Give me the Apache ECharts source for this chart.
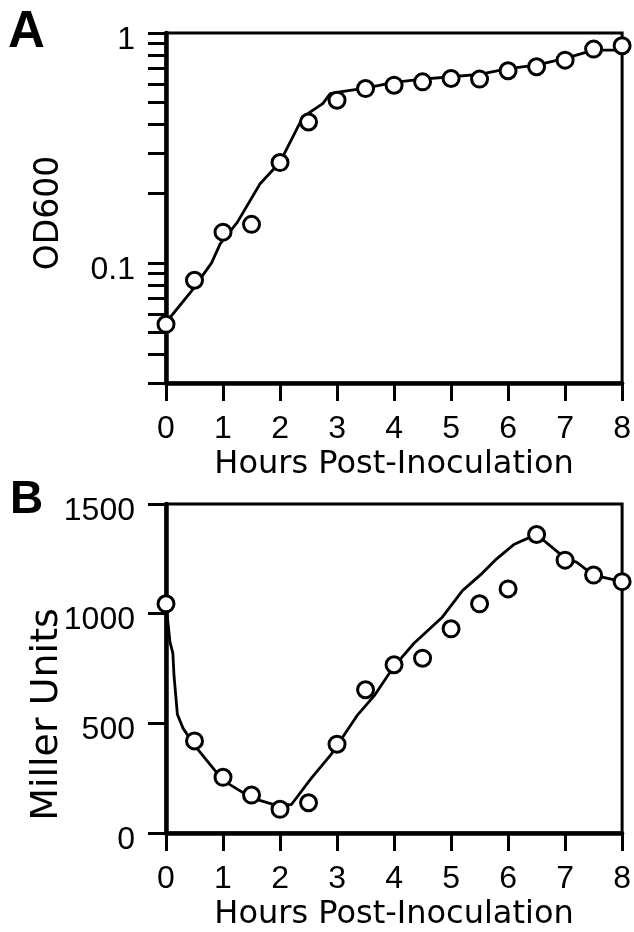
<!DOCTYPE html>
<html>
<head>
<meta charset="utf-8">
<script src="https://cdn.jsdelivr.net/npm/echarts@6/dist/echarts.min.js"></script>
<style>
html,body{margin:0;padding:0;background:#fff;}
#chart{width:634px;height:932px;}
</style>
</head>
<body>
<div id="chart"></div>
<script>
// ---- data ----
const hours = [0, 0.5, 1, 1.5, 2, 2.5, 3, 3.5, 4, 4.5, 5, 5.5, 6, 6.5, 7, 7.5, 8];
const od600 = [0.054, 0.084, 0.136, 0.147, 0.273, 0.41, 0.51, 0.573, 0.593, 0.613, 0.634, 0.63, 0.685, 0.713, 0.762, 0.851, 0.88];
const odCurveHours = [0, 0.45, 0.8, 0.95, 1.25, 1.65, 2.0, 2.4, 2.75, 2.88, 3.05, 3.5, 4, 4.5, 5, 5.5, 6, 6.5, 7, 7.5, 8];
const odCurve = [0.055, 0.0755, 0.1, 0.121, 0.15, 0.221, 0.274, 0.431, 0.493, 0.545, 0.554, 0.575, 0.61, 0.63, 0.645, 0.66, 0.7, 0.725, 0.775, 0.843, 0.843];
const miller = [1045, 420, 254, 173, 108, 138, 405, 653, 767, 797, 931, 1045, 1113, 1361, 1244, 1176, 1146];
const millerCurveHours = [0, 0.07, 0.12, 0.14, 0.2, 0.3, 0.5, 1.0, 1.5, 1.95, 2.2, 2.55, 2.9, 3.35, 3.65, 4.0, 4.35, 4.85, 5.2, 5.55, 5.8, 6.1, 6.4, 6.5, 6.9, 7.0, 7.2, 7.5, 8];
const millerCurve = [1045, 870, 820, 720, 540, 477, 400, 240, 160, 125, 130, 250, 360, 535, 625, 760, 865, 985, 1105, 1185, 1250, 1315, 1350, 1361, 1275, 1250, 1235, 1176, 1146];
const odTickValues = [0.03, 0.04, 0.05, 0.06, 0.07, 0.08, 0.09, 0.1, 0.2, 0.3, 0.4, 0.5, 0.6, 0.7, 0.8, 0.9, 1];
const odLabelValues = [0.1, 1];
const xTitle = 'Hours Post-Inoculation';

// ---- chart ----
const chart = echarts.init(document.getElementById('chart'), null, {renderer: 'canvas'});
const zip = (xs, ys) => xs.map((x, i) => [x, ys[i]]);
const labelFont = "'Liberation Sans', Arial, sans-serif";
const titleFont = "'DejaVu Sans', sans-serif";

function xAxisFor(gridIndex) {
  return {
    gridIndex, type: 'value', min: 0, max: 8, interval: 1,
    axisLine: {show: true, lineStyle: {color: '#000', width: 4.5}},
    axisTick: {show: true, inside: false, length: 18, lineStyle: {color: '#000', width: 3}},
    axisLabel: {margin: 30, color: '#000', fontSize: 32, fontFamily: labelFont},
    splitLine: {show: false},
    name: xTitle, nameLocation: 'middle', nameGap: 66, nameMoveOverlap: false,
    nameTextStyle: {color: '#000', fontSize: 32, fontFamily: titleFont}
  };
}

const option = {
  animation: false,
  backgroundColor: '#fff',
  title: [
    {text: 'A', left: 8, top: 7, padding: 0, textStyle: {fontSize: 51, fontWeight: 'bold', color: '#000', fontFamily: labelFont}},
    {text: 'B', left: 10, top: 477, padding: 0, textStyle: {fontSize: 46, fontWeight: 'bold', color: '#000', fontFamily: labelFont}}
  ],
  grid: [
    {left: 166, top: 33, width: 457, height: 350, show: true, borderColor: '#000', borderWidth: 3, backgroundColor: 'transparent'},
    {left: 166, top: 504, width: 457, height: 332, show: true, borderColor: '#000', borderWidth: 3, backgroundColor: 'transparent'}
  ],
  xAxis: [xAxisFor(0), xAxisFor(1)],
  yAxis: [
    {
      gridIndex: 0, type: 'log', logBase: 10, min: 0.03, max: 1,
      axisLine: {show: true, lineStyle: {color: '#000', width: 4.5}},
      axisTick: {show: true, inside: false, length: 18, customValues: odTickValues, lineStyle: {color: '#000', width: 3}},
      axisLabel: {margin: 31, color: '#000', fontSize: 32, fontFamily: labelFont, customValues: odLabelValues,
        verticalAlign: 'top', lineHeight: 14,
        formatter: v => (Math.abs(v - 1) < 1e-6 ? '1' : (Math.abs(v - 0.1) < 1e-6 ? '0.1' : ''))},
      splitLine: {show: false},
      name: 'OD600', nameLocation: 'middle', nameGap: 100, nameMoveOverlap: false,
      nameTextStyle: {color: '#000', fontSize: 33, fontFamily: titleFont, padding: [0, 10, 0, 0]}
    },
    {
      gridIndex: 1, type: 'value', min: 0, max: 1500, interval: 500,
      axisLine: {show: true, lineStyle: {color: '#000', width: 4.5}},
      axisTick: {show: true, inside: false, length: 18, lineStyle: {color: '#000', width: 3}},
      axisLabel: {margin: 31, color: '#000', fontSize: 32, fontFamily: labelFont,
        verticalAlign: 'top', lineHeight: 14, formatter: v => String(v)},
      splitLine: {show: false},
      name: 'Miller Units', nameLocation: 'middle', nameGap: 100, nameMoveOverlap: false,
      nameTextStyle: {color: '#000', fontSize: 38, fontFamily: titleFont, padding: [0, 92, 0, 0]}
    }
  ],
  series: [
    {type: 'line', xAxisIndex: 0, yAxisIndex: 0, data: zip(odCurveHours, odCurve), showSymbol: false,
      lineStyle: {color: '#000', width: 2.8}, z: 3, clip: false},
    {type: 'scatter', xAxisIndex: 0, yAxisIndex: 0, data: zip(hours, od600), symbol: 'circle', symbolSize: 16,
      itemStyle: {color: '#fff', borderColor: '#000', borderWidth: 3, opacity: 1}, z: 4, clip: false},
    {type: 'line', xAxisIndex: 1, yAxisIndex: 1, data: zip(millerCurveHours, millerCurve), showSymbol: false,
      lineStyle: {color: '#000', width: 2.8}, z: 3, clip: false},
    {type: 'scatter', xAxisIndex: 1, yAxisIndex: 1, data: zip(hours, miller), symbol: 'circle', symbolSize: 16,
      itemStyle: {color: '#fff', borderColor: '#000', borderWidth: 3, opacity: 1}, z: 4, clip: false}
  ]
};
chart.setOption(option);
</script>
</body>
</html>
